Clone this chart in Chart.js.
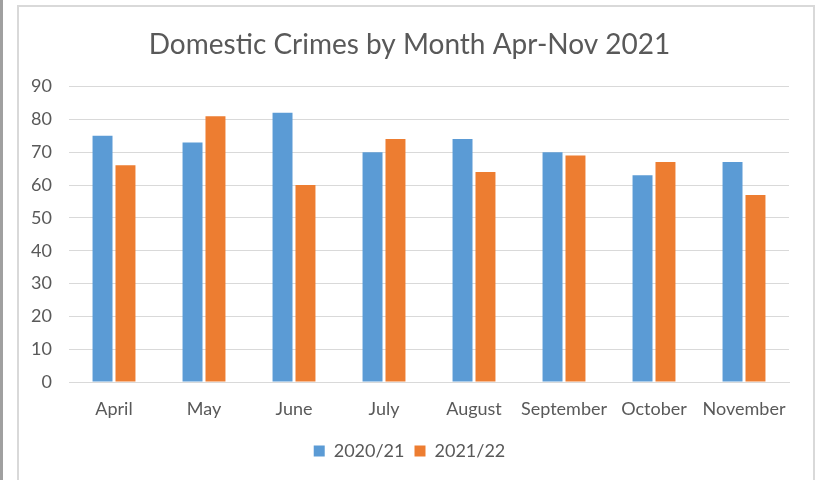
<!DOCTYPE html>
<html>
<head>
<meta charset="utf-8">
<script src="https://cdn.jsdelivr.net/npm/chart.js@4"></script>
<style>
  html, body { margin: 0; padding: 0; background: #fff; }
  #wrap { position: relative; width: 816px; height: 480px; overflow: hidden; }
  #edge { position: absolute; left: 0; top: 0; width: 3px; height: 480px; background: #a0a0a0; }
  #frame { position: absolute; left: 17px; top: 5px; width: 794px; height: 490px; border: 2px solid #d9d9d9; }
  canvas { position: absolute; left: 0; top: 0; }
</style>
</head>
<body>
<div id="wrap">
  <div id="edge"></div>
  <div id="frame"></div>
  <canvas id="crime-chart" width="816" height="480"></canvas>
</div>
<script>
// Chart data
const months = ['April', 'May', 'June', 'July', 'August', 'September', 'October', 'November'];
const crimes2021 = [75, 73, 82, 70, 74, 70, 63, 67];
const crimes2122 = [66, 81, 60, 74, 64, 69, 67, 57];
const seriesLabels = ['2020/21', '2021/22'];

const textGrey = '#595959';
const gridGrey = '#d9d9d9';
const fontFace = 'Lato';

const ctx = document.getElementById('crime-chart');
new Chart(ctx, {
  type: 'bar',
  data: {
    labels: months,
    datasets: [
      {
        label: seriesLabels[0],
        data: crimes2021,
        backgroundColor: '#5b9bd5',
        categoryPercentage: 0.51,
        barPercentage: 0.87
      },
      {
        label: seriesLabels[1],
        data: crimes2122,
        backgroundColor: '#ed7d31',
        categoryPercentage: 0.51,
        barPercentage: 0.87
      }
    ]
  },
  options: {
    responsive: false,
    animation: false,
    layout: { padding: { left: 30, right: 27, top: 0, bottom: 10 } },
    plugins: {
      title: {
        display: true,
        text: 'Domestic Crimes by Month Apr-Nov 2021',
        color: textGrey,
        font: { family: fontFace, size: 28, weight: 'normal' },
        padding: { top: 28, bottom: 25 }
      },
      legend: {
        position: 'bottom',
        labels: {
          color: textGrey,
          font: { family: fontFace, size: 18 },
          boxWidth: 11,
          boxHeight: 11,
          padding: 10
        }
      },
      tooltip: { enabled: false }
    },
    scales: {
      x: {
        grid: { display: false },
        border: { color: gridGrey, width: 1 },
        ticks: {
          color: textGrey,
          font: { family: fontFace, size: 18 },
          padding: 8,
          maxRotation: 0,
          minRotation: 0,
          autoSkip: false
        },
        afterFit: (s) => { s.height = 50; }
      },
      y: {
        min: 0,
        max: 90,
        ticks: { stepSize: 10, color: textGrey, font: { family: fontFace, size: 18 }, padding: 17 },
        grid: { color: gridGrey, drawTicks: false },
        border: { display: false },
        afterFit: (s) => { s.width = 39; }
      }
    }
  }
});
</script>
</body>
</html>
